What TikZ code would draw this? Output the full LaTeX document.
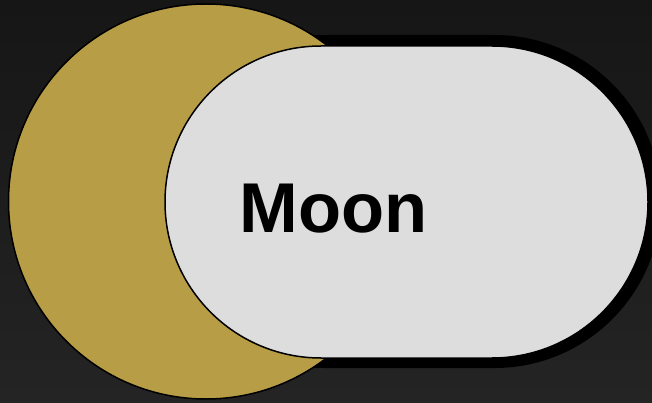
\documentclass[tikz,border=0pt]{standalone}
\usepackage{fontspec}
\setmainfont{Liberation Sans}
\definecolor{bgtop}{RGB}{22,22,22}
\definecolor{bgbot}{RGB}{36,36,36}
\definecolor{moongold}{RGB}{184,157,71}
\definecolor{palegray}{RGB}{221,221,221}
\tikzset{
  plain/.style={inner sep=0pt, outer sep=0pt},
  pill/.style={plain, rectangle, rounded corners=#1},
  moonlabel/.style={plain, font=\fontsize{70.5}{80}\selectfont\bfseries, text=black, anchor=base}
}
\begin{document}
\begin{tikzpicture}[x=1pt, y=-1pt]
  \useasboundingbox (0,0) rectangle (652,403);
  \shade[top color=bgtop, bottom color=bgbot] (0,0) rectangle (652,403);
  % shadow behind the pill
  \node[pill=166.5pt, fill=black, minimum width=504pt, minimum height=333pt] (shadow) at (409,201.5) {};
  % gold disc
  \node[plain, circle, draw=black, line width=1.5pt, fill=moongold, minimum size=395pt] (disc) at (206,201.5) {};
  % pale pill
  \node[pill=156pt, draw=black, line width=1.5pt, fill=palegray, minimum width=483pt, minimum height=312pt] (pill) at (406.5,202) {};
  \node[moonlabel] (label) at (333.5,233) {Moon};
\end{tikzpicture}
\end{document}
